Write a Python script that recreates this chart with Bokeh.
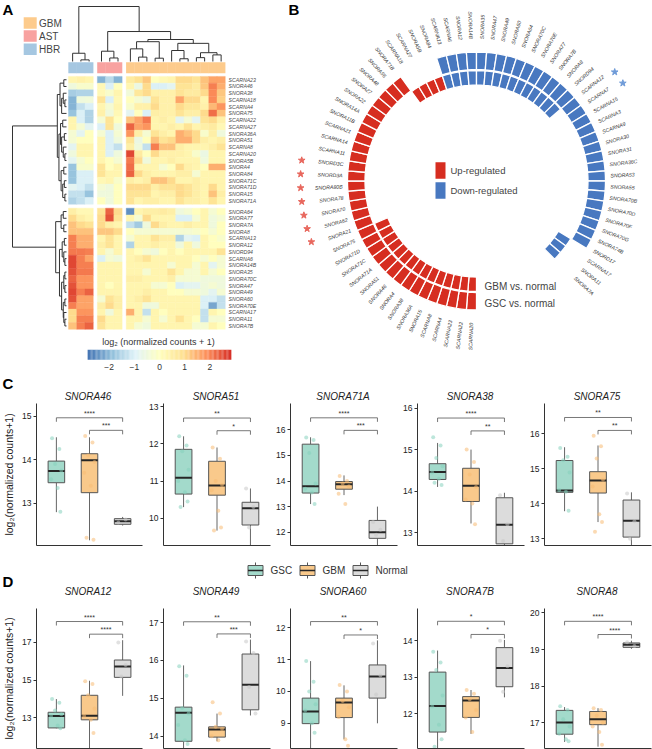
import math
from bokeh.plotting import figure
from bokeh.layouts import column, row
from bokeh.models import Range1d, FixedTicker, LinearAxis, ColumnDataSource, LinearColorMapper
from bokeh.transform import transform
from bokeh.core.properties import value
from bokeh.embed import file_html
from bokeh.resources import INLINE

FONT = "Liberation Sans"

# ======================= DATA =======================
# ---- Panel A: heatmap ----
heat_rows_top = ["SCARNA23", "SNORA46", "SNORA38", "SCARNA18", "SCARNA4", "SNORA75", "SCARNA22",
                 "SCARNA27", "SNORA36A", "SNORA51", "SCARNA8", "SCARNA20", "SNORA5B", "SNORA4",
                 "SNORA84", "SNORA71C", "SNORA71D", "SNORA15", "SNORA71A"]
heat_rows_bottom = ["SNORA64", "SNORA77", "SNORA7A", "SNORA8", "SCARNA13", "SNORA12", "SNORD94",
                    "SCARNA6", "SNORA14B", "SNORA35", "SNORA70C", "SNORA47", "SNORA49", "SNORA60",
                    "SNORA70E", "SCARNA17", "SNORA11", "SNORA7B"]
heat_groups = ["HBR", "HBR", "HBR", "AST", "AST", "AST",
               "GBM", "GBM", "GBM", "GBM", "GBM", "GBM", "GBM", "GBM", "GBM", "GBM", "GBM", "GBM"]
heat_top = [
    [0.3, 0.4, 0.3, -2.0, -1.4, -2.0, 0.6, 0.9, 1.2, 0.0, 0.2, 0.3, 1.0, 1.0, 0.8, 1.3, 1.6, 1.6],
    [-0.5, -0.2, -0.2, 0.2, -1.0, 0.0, 0.3, -0.6, 1.0, -1.0, -1.0, -0.8, 0.8, 0.8, 0.6, 1.2, 2.0, 1.5],
    [-1.6, -1.5, -1.5, 0.2, -0.2, 0.3, -0.4, 0.7, 1.0, 0.4, 0.4, 0.4, 0.8, 0.6, 0.6, 1.0, 1.9, 1.2],
    [-2.0, -0.5, -0.4, 0.8, -1.0, 0.2, 0.0, -0.3, -0.6, 0.8, 0.4, 0.4, 1.6, 1.0, 1.0, 0.3, 1.9, 1.1],
    [-2.0, -1.3, -1.0, 0.3, -0.3, 0.3, -0.2, 0.4, 0.4, 1.0, 0.4, 0.4, 1.0, 0.7, 0.7, 0.4, 1.4, 1.8],
    [-1.8, -1.0, -1.5, 0.4, -0.5, 0.2, -0.8, 0.0, -1.0, 0.5, 0.4, 0.4, 0.8, 0.5, 0.5, 1.0, 2.2, 1.3],
    [0.3, -1.0, -1.5, -0.3, 0.8, 0.0, 1.3, 1.6, 2.1, 0.3, 0.5, 0.3, -0.8, -0.3, -0.8, 0.8, 1.0, 0.4],
    [0.3, -0.3, -0.8, -1.0, 0.8, -0.5, 2.3, 1.6, 1.8, 0.3, 0.3, 0.5, 0.3, 0.8, 0.3, 0.5, 0.6, 0.2],
    [-0.3, -0.8, 0.0, -0.3, -1.0, -0.3, 1.8, 0.5, -0.3, 0.8, 0.5, 0.3, 1.5, 1.3, 1.0, -0.2, 0.5, -0.5],
    [-0.3, 0.0, 0.0, 0.3, -1.0, -0.5, 0.8, -0.6, 0.0, 1.3, 0.8, 1.0, 1.5, 1.5, 1.0, 0.5, 0.3, 0.5],
    [-0.8, 0.3, 0.3, 0.3, -1.0, -1.3, 0.5, -0.5, -1.3, 2.0, 1.3, 1.3, 0.5, 0.3, 0.3, 0.3, 0.5, 0.8],
    [-0.5, 0.3, 0.3, 0.3, -1.0, -0.5, 2.6, 0.6, 0.0, 1.0, 0.4, 0.4, 0.4, 0.3, -0.2, -0.6, 0.3, 0.3],
    [-0.8, -0.3, 0.0, 0.3, 0.0, -0.3, 2.1, 1.0, -0.5, 0.3, 0.3, 0.5, 0.3, 0.3, 0.3, -0.5, 0.3, 0.3],
    [-1.8, -0.2, -0.2, 0.8, 0.0, 0.3, 2.2, 0.3, 0.3, 0.3, -0.3, 0.0, 1.0, 0.4, 0.3, 0.0, 1.5, 1.5],
    [-1.8, -1.0, -1.0, 0.8, 0.3, 0.3, 2.3, 1.0, 0.5, 0.3, 0.3, 0.3, 0.5, 0.5, -0.3, 0.3, 0.3, 0.3],
    [-1.8, -1.0, -1.0, 0.2, 0.3, -0.2, 0.5, 0.3, 0.5, 1.3, 1.3, 1.0, 0.3, 0.3, 0.5, 0.3, 0.3, 0.3],
    [-0.8, -1.0, -1.3, -0.3, -0.5, 0.0, 1.0, 1.0, 1.0, 0.5, 0.8, 0.8, 1.0, 0.8, 0.5, 0.3, 1.0, 0.3],
    [-1.3, -1.3, -1.8, -0.5, -0.5, 0.0, 0.8, 0.8, 0.8, 0.3, 0.5, 0.5, 1.0, 0.8, 0.5, 0.3, 1.3, 0.5],
    [-1.5, -1.3, -1.0, 0.0, -0.5, 0.0, 0.8, 0.3, 0.5, 0.5, 0.3, 0.3, 0.8, 0.5, 0.5, 0.3, 0.8, 0.3],
]
heat_bottom = [
    [0.5, 0.2, 0.2, 0.8, 2.3, 1.0, -2.5, 0.3, 0.5, 0.5, 0.6, 0.5, -0.5, -0.3, 0.0, 0.3, -0.3, 0.0],
    [1.0, 0.5, 0.3, 1.0, 2.5, 0.8, 0.3, -0.3, 1.0, 0.3, 0.3, 0.3, -1.0, -1.0, -0.3, 0.3, -0.5, -0.3],
    [1.3, 1.0, 0.8, 1.0, 0.5, 0.3, -1.3, -1.7, -0.5, 1.0, 0.5, 0.3, 0.3, 0.5, 0.3, 0.3, -0.5, 0.0],
    [1.3, 1.3, 1.3, 1.2, 1.2, 1.0, 0.0, -0.3, -0.3, -0.3, -0.3, -0.3, -0.3, -0.3, -0.2, 0.0, -0.3, 0.0],
    [2.0, 1.5, 1.5, 0.3, 0.8, 0.3, -0.3, 0.3, 0.3, 0.8, 0.5, 0.5, -1.5, -0.8, -1.0, 0.3, 0.0, -0.2],
    [2.0, 1.5, 1.5, 0.5, 0.8, 0.3, -1.5, 0.3, 0.3, 0.5, 0.3, 0.3, -0.5, 0.3, -0.5, 0.3, 0.0, 0.0],
    [2.1, 2.1, 2.0, 0.3, -0.3, 0.3, 0.3, 0.0, -0.3, -0.5, 0.0, 0.3, 0.0, 0.3, 0.3, 0.3, 0.3, 0.8],
    [2.6, 2.0, 1.6, -1.0, -0.3, -0.5, 0.3, 0.5, 0.8, 0.3, 0.3, 0.3, 0.3, 0.3, 0.0, -0.3, 0.0, -0.3],
    [2.6, 2.0, 2.0, 0.3, 0.3, 0.3, 0.3, 0.3, 0.3, 0.3, 0.3, -0.3, 0.3, 0.3, -0.3, 0.3, -0.8, -0.3],
    [2.5, 2.1, 2.1, 0.3, 0.3, 0.3, 0.3, 0.3, -0.3, 0.3, 0.3, 0.8, 0.3, -0.3, -0.3, 0.3, -0.3, 0.0],
    [2.3, 1.8, 1.8, 0.3, 0.3, 0.3, 0.5, 0.5, 0.3, 0.3, 0.3, 0.5, -0.3, -0.3, -0.3, -0.5, -0.5, -0.5],
    [2.5, 1.8, 1.8, 0.3, 0.0, 0.3, 0.3, 0.3, 0.3, -0.3, -0.3, 0.0, -1.0, -0.8, -0.8, -0.5, -0.3, -0.5],
    [2.6, 2.0, 2.3, 0.3, 0.3, 0.3, 0.3, 0.3, 0.5, 0.3, 0.3, 0.0, 0.0, -0.3, -0.3, -0.5, -0.8, -0.3],
    [2.5, 1.6, 1.6, -0.3, 0.8, 0.5, 0.3, 0.5, 0.8, 0.3, 0.3, 0.3, 0.3, 0.3, 0.3, -1.0, -1.0, -1.3],
    [2.0, 1.6, 1.6, 0.5, 1.0, 0.5, 0.3, 0.3, -0.5, -0.5, 0.3, 0.3, 0.3, 0.3, 0.3, -1.0, -2.2, -1.3],
    [1.0, 1.8, 1.8, 0.3, -0.5, 0.3, 1.5, 0.3, -1.3, 0.3, 0.0, 0.3, 0.3, 0.3, 0.3, -1.3, 0.3, 0.0],
    [1.0, 2.0, 2.0, 1.0, 0.3, 0.3, 0.3, 0.3, -0.3, 0.3, -0.3, 0.3, 0.8, 0.3, 0.0, -1.3, -0.3, -0.3],
    [1.3, 2.0, 2.3, 0.8, 0.3, 0.3, 0.3, -0.3, -0.5, 0.3, 0.3, 0.3, 0.3, 0.3, -0.3, -0.3, 0.3, 0.0],
]
legend_groups = ["GBM", "AST", "HBR"]
group_colors = {"GBM": "#FDCB8C", "AST": "#F8A2A0", "HBR": "#A5C7E1"}
# dendrograms: (left, right, merge height); leaves are column / row indices
col_tree = ((0, (1, 2, 0.3), 1.5),
            ((3, (4, 5, 0.64), 1.87),
             (((6, (7, 8, 0.8), 2.3), (9, 10, 0.6), 3.6),
              ((11, (12, 13, 0.5), 2.0), ((14, 15, 0.7), (16, 17, 1.2), 1.6), 3.3), 4.0), 5.45), 10.0)
row_tree = (
    (((0, 1, 0.5), ((2, (3, 4, 0.3), 0.6), 5, 0.9), 1.2),
     (((6, 7, 0.7), ((8, 9, 0.4), (10, (11, 12, 0.3), 0.6), 0.9), 1.1),
      ((13, 14, 0.5), ((15, 16, 0.4), (17, 18, 0.3), 0.7), 1.0), 1.4), 1.7),
    (((19, 20, 0.6), (21, 22, 0.5), 1.0),
     (((23, 24, 0.4), (25, (26, 27, 0.3), 0.5), 0.8),
      (((28, 29, 0.3), (30, 31, 0.3), 0.5), ((32, 33, 0.3), (34, (35, 36, 0.3), 0.5), 0.6), 0.9), 1.3), 2.0),
    10.0)
colorbar_ticks = [-2, -1, 0, 1, 2]
colorbar_labels = ["\u22122", "\u22121", "0", "1", "2"]

# ---- Panel B: circular plot (clockwise from the gap at the bottom) ----
circ_genes = ["SCARNA20", "SCARNA22", "SCARNA23", "SCARNA4", "SCARNA8", "SNORA15", "SNORA36A", "SNORA38",
              "SNORA4", "SNORA46", "SNORA51", "SNORA71A", "SNORA71C", "SNORA71D", "SNORA75",
              "SNORA21", "SNORA62", "SNORA70", "SNORA78", "SNORA80B", "SNORD3A", "SNORD3C",
              "SCARNA11", "SCARNA14", "SCARNA21", "SNORA11B", "SNORA14A", "SNORA22", "SNORA27", "SNORA48",
              "SNORA56", "SNORA71B",
              "SCARNA18", "SCARNA27", "SNORA5B", "SNORA84",
              "SCARNA13", "SCARNA6", "SNORA12", "SNORA14B", "SNORA35", "SNORA47", "SNORA49", "SNORA60",
              "SNORA64", "SNORA70C", "SNORA70E", "SNORA77", "SNORA7B", "SNORA8", "SNORD94",
              "SCARNA12", "SCARNA7", "SCARNA15", "SCARNA3", "SCARNA9", "SNORA30", "SNORA31", "SNORA36C",
              "SNORA53", "SNORA55", "SNORA70B", "SNORA70D", "SNORA70F", "SNORA70G", "SNORA74B", "SNORD17",
              "SCARNA17", "SNORA11", "SNORA7A"]
# U = up-regulated, D = down-regulated, . = not significant
circ_gbm = "UUUUUUUUUUUUUUU" "................." "UUUU" "DDDDDDDDDDDDDDD" "................" "DDD"
circ_gsc = "UUUUUUUUUUUUUUU" "UUUUUUUUUUUUUUUUU" "...." "DDDDDDDDDDDDDDD" "DDDDDDDDDDDDDDDD" "..."
circ_star = "..............." "rrrrrrr.........." "...." "..............." "bb.............." "..."

# ---- Panels C/D: box plots ----
box_genes = ["SNORA46", "SNORA51", "SNORA71A", "SNORA38", "SNORA75",
             "SNORA12", "SNORA49", "SNORA60", "SNORA7B", "SNORA8"]
box_groups = ["GSC", "GBM", "Normal"]
# (lower whisker, Q1, median, Q3, upper whisker)
gsc_box = [(12.79, 13.47, 13.74, 13.97, 14.52), (10.30, 10.65, 11.09, 11.85, 12.20),
           (13.10, 13.53, 13.80, 15.44, 15.71), (14.10, 14.28, 14.46, 14.66, 15.16),
           (13.79, 14.33, 14.38, 15.24, 15.62), (12.45, 12.47, 13.10, 13.30, 14.00),
           (13.60, 13.87, 14.62, 14.77, 15.87), (8.10, 8.99, 9.37, 9.79, 10.95),
           (10.95, 11.50, 12.21, 13.14, 13.73), (16.48, 16.69, 17.01, 17.34, 17.43)]
gbm_box = [(12.14, 13.24, 13.99, 14.14, 14.52), (9.67, 10.62, 10.88, 11.53, 11.90),
           (13.45, 13.68, 13.87, 13.98, 14.22), (13.22, 13.75, 14.13, 14.55, 15.00),
           (13.48, 14.31, 14.67, 14.92, 15.67), (11.30, 12.90, 13.12, 14.20, 14.97),
           (13.87, 13.98, 14.18, 14.25, 14.60), (8.50, 9.18, 9.65, 9.79, 10.19),
           (11.45, 11.90, 12.36, 12.47, 12.65), (16.35, 16.95, 17.10, 17.31, 17.40)]
normal_box = [(12.48, 12.51, 12.58, 12.64, 12.68), (9.20, 9.82, 10.27, 10.43, 10.80),
              (11.45, 11.76, 12.00, 12.46, 13.00), (12.65, 12.73, 13.19, 13.84, 13.96),
              (12.78, 13.05, 13.52, 14.11, 14.33), (14.17, 15.15, 15.73, 16.07, 17.12),
              (14.55, 14.70, 15.36, 16.17, 16.55), (9.00, 9.79, 10.47, 10.83, 11.60),
              (12.45, 12.74, 13.25, 13.81, 14.02), (19.02, 19.06, 19.13, 19.18, 19.24)]
gsc_points = [[14.5, 14.25, 13.9, 13.75, 13.55, 13.35, 12.8],
              [12.2, 11.95, 11.8, 11.3, 11.0, 10.7, 10.45, 10.3],
              [15.7, 15.6, 15.1, 13.9, 13.7, 13.55, 13.1],
              [15.3, 15.1, 14.8, 14.6, 14.45, 14.3, 14.15, 14.2],
              [15.6, 15.35, 15.25, 14.9, 14.4, 14.35, 13.8],
              [14.0, 13.8, 13.4, 13.2, 13.1, 12.6, 12.45],
              [15.85, 15.6, 14.75, 14.6, 14.3, 13.9, 13.8],
              [10.95, 10.3, 10.0, 9.6, 9.4, 9.0, 8.7],
              [13.7, 13.4, 13.2, 12.5, 12.2, 11.7, 11.3, 11.1],
              [17.45, 17.35, 17.1, 16.9, 16.7, 16.55, 16.5]]
gbm_points = [[14.55, 14.4, 14.1, 13.95, 13.7, 13.4, 12.15, 12.2],
              [11.9, 11.6, 11.0, 10.9, 10.75, 10.2, 9.75, 9.67],
              [14.2, 14.0, 13.9, 13.8, 13.5, 13.1],
              [15.0, 14.7, 14.4, 14.1, 13.8, 13.7, 13.2],
              [15.95, 15.65, 15.3, 14.7, 14.5, 13.7, 13.48, 13.2],
              [14.95, 14.8, 14.2, 13.5, 13.1, 12.9, 12.2],
              [14.9, 14.6, 14.25, 14.2, 14.0, 13.9],
              [10.2, 10.0, 9.7, 9.5, 9.2, 8.5, 8.3],
              [12.65, 12.55, 12.4, 12.1, 11.9, 11.5],
              [17.4, 17.35, 17.2, 17.0, 16.9, 16.75, 16.4]]
normal_points = [[12.55, 12.62], [10.8, 10.3, 9.75], [12.4, 12.1, 11.9], [13.9, 13.2, 12.8],
                 [14.3, 13.5, 13.0], [17.0, 15.8, 15.2], [16.5, 16.2, 15.3, 14.6],
                 [11.5, 10.5, 9.9], [14.0, 13.3, 12.6], [19.2, 19.1]]
sig_gsc_normal = ["****", "**", "****", "****", "**", "****", "**", "**", "*", "****"]
sig_gbm_normal = ["***", "*", "***", "**", "**", "****", "***", "*", "*", "****"]
bracket_gsc_normal = [14.97, 12.69, 16.47, 15.76, 16.47, 18.11, 17.02, 12.19, 14.53, 19.77]
bracket_gbm_normal = [14.68, 12.35, 15.98, 15.45, 16.10, 17.44, 16.70, 11.77, 14.17, 19.41]
y_limits = [(12.02, 15.30), (9.27, 13.08), (11.48, 17.03), (12.69, 16.11), (12.81, 16.87),
            (11.38, 18.80), (13.68, 17.37), (8.21, 12.60), (11.05, 14.88), (16.30, 20.12)]
y_ticks = [[13, 14, 15], [10, 11, 12, 13], [12, 13, 14, 15, 16], [13, 14, 15, 16], [13, 14, 15, 16],
           [13, 15, 17], [14, 15, 16, 17], [9, 10, 11, 12], [12, 13, 14], [17, 18, 19, 20]]

# ======================= STYLE / LAYOUT =======================
box_fill = {"GSC": "#A3DACB", "GBM": "#F9C98B", "Normal": "#DCDCDC"}
point_col = {"GSC": "#86D1BD", "GBM": "#F7BC74", "Normal": "#C8C8C8"}
UP_COL, DOWN_COL = "#D62D20", "#4878C0"
jitter = [-0.13, 0.09, -0.04, 0.15, -0.16, 0.04, 0.12, -0.09]
TOP_H = 403                       # height of row with panels A and B
A_W, B_W = 285, 367
widths = [146, 127, 127, 127, 125]
lefts = [33, 15, 15, 15, 15]
rights = [4, 3, 3, 3, 1]
C_H, C_BT, C_BB = 155, 0, 13      # C row: 403..558
L_TOP, L_H = 558, 42              # legend strip: 558..600
D_H, D_BT, D_BB = 149, 8, 1       # D row: 600..749


def base_fig(w, h, xr, yr, **kw):
    p = figure(width=w, height=h, x_range=xr, y_range=yr, output_backend="svg",
               toolbar_location=None, x_axis_type=None, y_axis_type=None, title=None, **kw)
    p.outline_line_color = None
    p.background_fill_color = "white"
    p.border_fill_color = "white"
    return p


def dendro(node, leaf_pos, segs):
    if isinstance(node, int):
        return leaf_pos(node), 0.0
    l, r, h = node
    pl_, hl = dendro(l, leaf_pos, segs)
    pr, hr = dendro(r, leaf_pos, segs)
    segs.append((pl_, hl, pl_, h))
    segs.append((pr, hr, pr, h))
    segs.append((pl_, h, pr, h))
    return (pl_ + pr) / 2.0, h


anchors = ["#4575B4", "#91BFDB", "#E0F3F8", "#FFFFBF", "#FEE090", "#FC8D59", "#D73027"]


def _rgb(hx_):
    return tuple(int(hx_[i:i + 2], 16) for i in (1, 3, 5))


pal = []
for k in range(100):
    t = k / 99 * (len(anchors) - 1)
    i = min(int(t), len(anchors) - 2)
    f = t - i
    a, b = _rgb(anchors[i]), _rgb(anchors[i + 1])
    pal.append("#%02x%02x%02x" % tuple(int(round(a[j] + (b[j] - a[j]) * f)) for j in range(3)))
CLOW, CHIGH = -2.85, 2.85
mapper = LinearColorMapper(palette=pal, low=CLOW, high=CHIGH)

# ======================= PANEL A =======================
XS, X0, YS, Y0 = 8.25, 68.0, 6.73, 75.9


def hx(px):
    return (px - X0) / XS


def hy(py):
    return (py - Y0) / YS


pa = base_fig(A_W, TOP_H, Range1d(hx(0), hx(A_W)), Range1d(hy(TOP_H), hy(0)), min_border=0)
gidx = {"HBR": 0, "AST": 1, "GBM": 2}
n_top = len(heat_rows_top)
row_names = heat_rows_top + heat_rows_bottom
heat_values = heat_top + heat_bottom


def col_center(j):
    return j + 0.5 + 0.5 * gidx[heat_groups[j]]


def row_center(i):
    return i + 0.5 + (0.58 if i >= n_top else 0.0)


cx, cy, cv = [], [], []
for i, rv in enumerate(heat_values):
    for j, v in enumerate(rv):
        cx.append(col_center(j)); cy.append(row_center(i)); cv.append(v)
pa.rect(x="x", y="y", width=1, height=1, source=ColumnDataSource(dict(x=cx, y=cy, v=cv)),
        fill_color=transform("v", mapper), line_color=transform("v", mapper), line_width=0.4)
pa.rect(x=[col_center(j) for j in range(len(heat_groups))], y=hy(67.2), width=1.04, height=11 / YS,
        fill_color=[group_colors[g] for g in heat_groups], line_color=None)
segs = []
dendro(col_tree, col_center, segs)
pa.segment(x0=[s[0] for s in segs], y0=[hy(61 - 5.5 * s[1]) for s in segs],
           x1=[s[2] for s in segs], y1=[hy(61 - 5.5 * s[3]) for s in segs],
           line_color="#333333", line_width=1)
segs = []
dendro(row_tree, row_center, segs)
pa.segment(x0=[hx(66 - 5.4 * s[1]) for s in segs], y0=[s[0] for s in segs],
           x1=[hx(66 - 5.4 * s[3]) for s in segs], y1=[s[2] for s in segs],
           line_color="#333333", line_width=1)
pa.text(x=[hx(228)] * len(row_names), y=[row_center(i) for i in range(len(row_names))], text=row_names,
        text_font=value(FONT), text_font_style="italic", text_font_size="5.2px", text_color="#4d4d4d",
        text_align="left", text_baseline="middle")
for k, g in enumerate(legend_groups):
    yc = 22.5 + 13.1 * k
    pa.rect(x=hx(29.7), y=hy(yc), width=13 / XS, height=11.5 / YS, fill_color=group_colors[g], line_color=None)
    pa.text(x=[hx(38.5)], y=[hy(yc)], text=[g], text_font=value(FONT), text_font_size="10px",
            text_color="#444444", text_align="left", text_baseline="middle")
nseg = 114
step = (CHIGH - CLOW) / nseg
cb_v = [CLOW + step * (k + 0.5) for k in range(nseg)]
cb_src = ColumnDataSource(dict(x=[hx(159 + 25.2 * v) for v in cb_v], v=cb_v))
pa.rect(x="x", y=hy(354.3), width=25.2 * step / XS * 1.08, height=10 / YS, source=cb_src,
        fill_color=transform("v", mapper), line_color=None)
pa.text(x=[hx(159 + 25.2 * v) for v in colorbar_ticks], y=[hy(366)] * len(colorbar_ticks), text=colorbar_labels,
        text_font=value(FONT), text_font_size="8.5px", text_color="#333333", text_align="center",
        text_baseline="middle")
pa.text(x=[hx(158)], y=[hy(341)], text=["log\u2082 (normalized counts + 1)"], text_font=value(FONT),
        text_font_size="9px", text_color="#333333", text_align="center", text_baseline="middle")

# ======================= PANEL B =======================
CX, CY = 476.0, 180.5
pb = base_fig(B_W, TOP_H, Range1d(A_W - CX, A_W + B_W - CX), Range1d(CY - TOP_H, CY), min_border=0)
SLOT, START = 4.5, 180.0
ring_gbm, ring_gsc = (96.0, 110.5), (111.5, 129.0)
tw = dict(x=[], y=[], ri=[], ro=[], sa=[], ea=[], c=[])
for i in range(len(circ_genes)):
    th1 = START + SLOT * i
    th2 = th1 + SLOT
    for codes, (r0, r1) in ((circ_gbm, ring_gbm), (circ_gsc, ring_gsc)):
        c = codes[i]
        if c == ".":
            continue
        tw["x"].append(0); tw["y"].append(0); tw["ri"].append(r0); tw["ro"].append(r1)
        tw["sa"].append(math.radians(90 - th2)); tw["ea"].append(math.radians(90 - th1))
        tw["c"].append(UP_COL if c == "U" else DOWN_COL)
pb.annular_wedge(x="x", y="y", inner_radius="ri", outer_radius="ro", start_angle="sa", end_angle="ea",
                 fill_color="c", line_color="white", line_width=1.3, source=ColumnDataSource(tw))
lab = {"l": dict(x=[], y=[], t=[], a=[]), "r": dict(x=[], y=[], t=[], a=[])}
stars = dict(x=[], y=[], c=[])
for i, g in enumerate(circ_genes):
    th = START + SLOT * (i + 0.5)
    tr = math.radians(th)
    phi = 90 - th
    x, y = 134 * math.sin(tr), 142 * math.cos(tr)
    side = "r" if (th % 360) < 180 else "l"
    lab[side]["x"].append(x); lab[side]["y"].append(y); lab[side]["t"].append(g)
    lab[side]["a"].append(math.radians(phi if side == "r" else phi + 180))
    if circ_star[i] != ".":
        stars["x"].append(176 * math.sin(tr)); stars["y"].append(176 * math.cos(tr))
        stars["c"].append("#E8675D" if circ_star[i] == "r" else "#6F9BD8")
for side, al in (("r", "left"), ("l", "right")):
    pb.text(x="x", y="y", text="t", angle="a", source=ColumnDataSource(lab[side]), text_font=value(FONT),
            text_font_style="italic", text_font_size="5.2px", text_color="#333333", text_align=al,
            text_baseline="middle")
pb.scatter(x="x", y="y", marker="star", size=7, fill_color="c", line_color="c", source=ColumnDataSource(stars))
pb.rect(x=[-36, -36], y=[10.5, -9.5], width=10, height=16.5, fill_color=[UP_COL, DOWN_COL], line_color=None)
pb.text(x=[-26, -26], y=[10.5, -9.5], text=["Up-regulated", "Down-regulated"], text_font=value(FONT),
        text_font_size="9.5px", text_color="#444444", text_align="left", text_baseline="middle")
pb.text(x=[8, 8], y=[-105.5, -122.5], text=["GBM vs. normal", "GSC vs. normal"], text_font=value(FONT),
        text_font_size="10px", text_color="#444444", text_align="left", text_baseline="middle")


# page-positioned texts in the top row (letters, titles of panel C)
def top_text(px, py, txt, size, style="normal", align="left", color="black"):
    if px < A_W:
        fig, x, y = pa, hx(px), hy(py)
    else:
        fig, x, y = pb, px - CX, CY - py
    fig.text(x=[x], y=[y], text=[txt], text_font=value(FONT), text_font_size=size, text_font_style=style,
             text_align=align, text_baseline="middle", text_color=color)


top_text(2, 9.2, "A", "15px", "bold")
top_text(288, 9.2, "B", "15px", "bold")
top_text(2, 383.3, "C", "15px", "bold")

# ======================= PANELS C / D =======================
YLAB = "log\u2082(normalized counts+1)"
page_starts = [sum(widths[:k]) for k in range(5)]
title_x = [page_starts[k] + lefts[k] + (2 - 0.4) * (widths[k] - lefts[k] - rights[k]) / 3.2 for k in range(5)]


def box_panel(k, w, bl, br, h, bt, bb, ylabel):
    lo, hi = y_limits[k]
    p = base_fig(w, h, Range1d(0.4, 3.6), Range1d(lo, hi), min_border_left=bl, min_border_right=br,
                 min_border_top=bt, min_border_bottom=bb)
    ppu = (h - bt - bb) / (hi - lo)
    yax = LinearAxis(ticker=FixedTicker(ticks=y_ticks[k]), axis_line_color="#333333", axis_line_width=1,
                     major_tick_line_color="#333333", major_tick_out=3, major_tick_in=0, minor_tick_out=0,
                     minor_tick_in=0, minor_tick_line_color=None, major_label_text_font=FONT,
                     major_label_text_font_size="8.5px", major_label_text_color="#222222", major_label_standoff=2)
    if ylabel:
        yax.axis_label = YLAB
        yax.axis_label_text_font = FONT
        yax.axis_label_text_font_style = "normal"
        yax.axis_label_text_font_size = "10.5px"
        yax.axis_label_text_color = "#222222"
        yax.axis_label_standoff = 4
    p.add_layout(yax, "left")
    xax = LinearAxis(ticker=FixedTicker(ticks=[]), axis_line_color="#333333", axis_line_width=1,
                     major_tick_line_color=None, minor_tick_line_color=None, major_tick_out=0, major_tick_in=0,
                     minor_tick_out=0, minor_tick_in=0, major_label_standoff=0, major_label_text_font_size="0px")
    p.add_layout(xax, "below")
    stats = [gsc_box[k], gbm_box[k], normal_box[k]]
    pts = [gsc_points[k], gbm_points[k], normal_points[k]]
    xs = [1, 2, 3]
    p.segment(x0=xs, y0=[s[0] for s in stats], x1=xs, y1=[s[1] for s in stats], line_color="#666666", line_width=1)
    p.segment(x0=xs, y0=[s[3] for s in stats], x1=xs, y1=[s[4] for s in stats], line_color="#666666", line_width=1)
    p.vbar(x=xs, width=0.5, bottom=[s[1] for s in stats], top=[s[3] for s in stats],
           fill_color=[box_fill[g] for g in box_groups], line_color="#555555", line_width=1)
    p.segment(x0=[x - 0.25 for x in xs], y0=[s[2] for s in stats], x1=[x + 0.25 for x in xs],
              y1=[s[2] for s in stats], line_color="#262626", line_width=2)
    for gi, g in enumerate(box_groups):
        px = [xs[gi] + jitter[m % len(jitter)] for m in range(len(pts[gi]))]
        p.scatter(x=px, y=pts[gi], size=4, fill_color=point_col[g], line_color=None, fill_alpha=0.55)
    tick = 4.0 / ppu
    for (xa, yb, s) in ((1, bracket_gsc_normal[k], sig_gsc_normal[k]), (2, bracket_gbm_normal[k], sig_gbm_normal[k])):
        p.segment(x0=[xa, xa, 3], y0=[yb - tick, yb, yb], x1=[xa, 3, 3], y1=[yb, yb, yb - tick],
                  line_color="#555555", line_width=0.8)
        p.text(x=[(xa + 3) / 2.0], y=[yb + 1.0 / ppu], text=[s], text_font=value(FONT), text_font_size="7px",
               text_color="#333333", text_align="center", text_baseline="bottom")
    return p


c_figs = [box_panel(k, widths[k], lefts[k], rights[k], C_H, C_BT, C_BB, k == 0) for k in range(5)]
d_figs = [box_panel(5 + k, widths[k], lefts[k], rights[k], D_H, D_BT, D_BB, k == 0) for k in range(5)]

# titles of panel C (in top-row figures)
for k in range(5):
    top_text(title_x[k], 396.2, box_genes[k], "10px", "italic", "center", "#222222")

# legend strip with letter D and titles of panel D
pl = base_fig(652, L_H, Range1d(0, 652), Range1d(L_TOP + L_H, L_TOP), min_border=0)
leg_x = [255, 307, 360]
pl.segment(x0=leg_x + leg_x, y0=[562] * 3 + [575] * 3, x1=leg_x + leg_x, y1=[565] * 3 + [578] * 3,
           line_color="#555555", line_width=1)
pl.rect(x=leg_x, y=570, width=15, height=10, fill_color=[box_fill[g] for g in box_groups],
        line_color="#555555", line_width=1)
pl.segment(x0=[x - 7.5 for x in leg_x], y0=[570] * 3, x1=[x + 7.5 for x in leg_x], y1=[570] * 3,
           line_color="#262626", line_width=1.5)
pl.text(x=[x + 15 for x in leg_x], y=[570] * 3, text=box_groups, text_font=value(FONT), text_font_size="10px",
        text_color="#333333", text_align="left", text_baseline="middle")
pl.text(x=[2], y=[580.5], text=["D"], text_font=value(FONT), text_font_style="bold", text_font_size="15px",
        text_color="black", text_align="left", text_baseline="middle")
pl.text(x=title_x, y=[590.5] * 5, text=box_genes[5:], text_font=value(FONT), text_font_style="italic",
        text_font_size="10px", text_color="#222222", text_align="center", text_baseline="middle")

layout = column(row(pa, pb), row(*c_figs), pl, row(*d_figs))
open("out.html", "w").write(file_html(layout, INLINE))
